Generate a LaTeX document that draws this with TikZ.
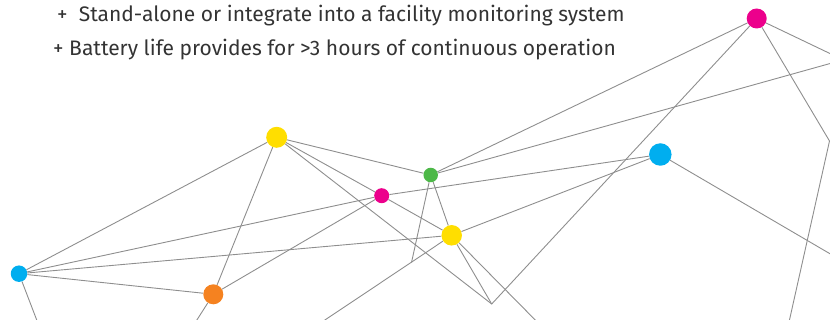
\documentclass[tikz,border=0pt]{standalone}
\usepackage{fontspec}
\setmainfont{Fira Sans}
\usepackage{xcolor}
\usetikzlibrary{positioning, calc, backgrounds}

\definecolor{linkgray}{RGB}{142,142,142}
\definecolor{textgray}{RGB}{51,51,51}
\definecolor{dotmagenta}{RGB}{236,0,140}
\definecolor{dotyellow}{RGB}{255,222,0}
\definecolor{dotgreen}{RGB}{77,184,72}
\definecolor{dotcyan}{RGB}{0,174,239}
\definecolor{dotorange}{RGB}{245,130,32}

\tikzset{
  dot/.style={circle,inner sep=0pt,minimum size=#1},
  link/.style={draw=linkgray,line width=0.9pt},
  feature/.style={anchor=base west,text=textgray,inner sep=0pt,
    font=\fontsize{21}{25}\selectfont}
}

\begin{document}
\begin{tikzpicture}[x=1pt,y=-1pt]
      \useasboundingbox (0,0) rectangle (830,320);

      % text
      \node[feature] (featA) at (57,22) {+\ \ Stand-alone or integrate into a facility monitoring system};
      \node[feature] (featB) at (53,56) {+ Battery life provides for >3 hours of continuous operation};

      % network dots
      \node[dot=20pt,fill=dotmagenta] (magA) at (756.7,18.5) {};
      \node[dot=21pt,fill=dotyellow] (yelA) at (276.7,137.3) {};
      \node[dot=14.5pt,fill=dotgreen] (grn) at (430.7,175) {};
      \node[dot=15pt,fill=dotmagenta] (magB) at (381.7,195.7) {};
      \node[dot=22.5pt,fill=dotcyan] (cyaA) at (660.3,154.5) {};
      \node[dot=20.5pt,fill=dotyellow] (yelB) at (451.7,235.3) {};
      \node[dot=16.5pt,fill=dotcyan] (cyaB) at (19,273.7) {};
      \node[dot=20pt,fill=dotorange] (org) at (213.3,294.3) {};

      % bends and loose ends
      \coordinate (bendP) at (491.7,304);
      \coordinate (bendQ) at (829.5,141);
      \coordinate (bendR) at (411.5,262.5);
      \coordinate (endA) at (900,87);
      \coordinate (endB) at (785,340);
      \coordinate (endC) at (900,44);
      \coordinate (endD) at (900,294.7);
      \coordinate (endE) at (553,338);
      \coordinate (endF) at (295,340);
      \coordinate (endG) at (186,337);
      \coordinate (endH) at (44,339);

      \begin{scope}[on background layer]
      \clip (0,0) rectangle (830,320);
      \draw[link] (magA) -- (grn);
      \draw[link] (magA) -- (bendP) -- (yelA);
      \draw[link] (magA) -- (endA);
      \draw[link] (magA) -- (bendQ) -- (endB);
      \draw[link] (grn) -- (endC);
      \draw[link] (grn) -- (yelA);
      \draw[link] (grn) -- (yelB);
      \draw[link] (grn) -- (bendR);
      \draw[link] (yelA) -- (cyaB);
      \draw[link] (yelA) -- (org);
      \draw[link] (yelA) -- (magB);
      \draw[link] (magB) -- (cyaA);
      \draw[link] (magB) -- (cyaB);
      \draw[link] (magB) -- (org);
      \draw[link] (magB) -- (yelB);
      \draw[link] (yelB) -- (cyaA);
      \draw[link] (yelB) -- (cyaB);
      \draw[link] (yelB) -- (bendP);
      \draw[link] (yelB) -- (endE);
      \draw[link] (yelB) -- (endF);
      \draw[link] (cyaA) -- (endD);
      \draw[link] (cyaB) -- (org);
      \draw[link] (cyaB) -- (endH);
      \draw[link] (org) -- (endG);
      \end{scope}
\end{tikzpicture}
\end{document}
